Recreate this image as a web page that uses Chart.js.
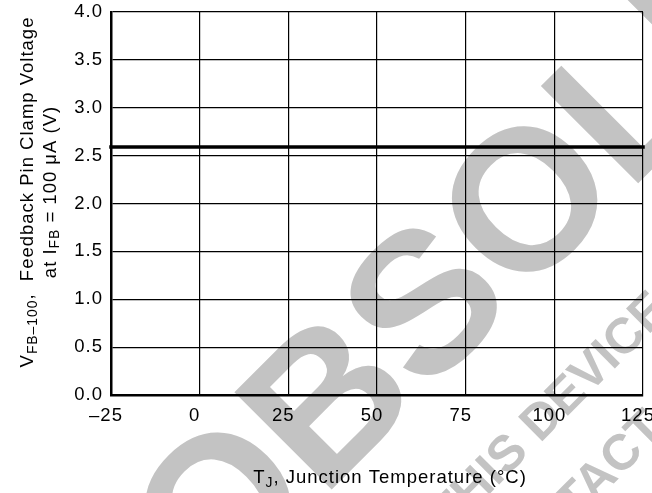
<!DOCTYPE html>
<html>
<head>
<meta charset="utf-8">
<script src="https://cdn.jsdelivr.net/npm/chart.js@4.4.0/dist/chart.umd.min.js"></script>
<style>
  html, body { margin: 0; padding: 0; background: #fff; }
  canvas { display: block; }
</style>
</head>
<body>
<canvas id="clampChart" width="652" height="493"></canvas>
<script>
// Feedback pin clamp voltage vs junction temperature
const tempC  = [-25, 125];
const clampV = [2.59, 2.59];
const xTicks = [-25, 0, 25, 50, 75, 100, 125];
const yTicks = [0, 0.5, 1.0, 1.5, 2.0, 2.5, 3.0, 3.5, 4.0];

// axis titles, split into runs so subscripts can be drawn smaller
const xTitle  = [{ t: "T" }, { t: "J", sub: true }, { t: ", Junction Temperature (°C)" }];
const yTitle1 = [{ t: "V" }, { t: "FB\u2013100", sub: true }, { t: ",  Feedback Pin Clamp Voltage" }];
const yTitle2 = [{ t: "at I" }, { t: "FB", sub: true }, { t: " = 100 \u03BCA (V)" }];

const stamp     = "OBSOLETE";
const stampNote = ["THIS DEVICE IS NOT RECOMMENDED FOR NEW DESIGN",
                   "PLEASE CONTACT YOUR ON SEMICONDUCTOR REPRESENTATIVE"];

const FONT = '"Liberation Sans", Arial, Helvetica, sans-serif';
const SIZE = 18.5;

function drawRich(ctx, runs, x, y) {
  const subSize = SIZE * 0.75, drop = SIZE * 0.2;
  let total = 0;
  runs.forEach(r => {
    ctx.font = `${r.sub ? subSize : SIZE}px ${FONT}`;
    r.w = ctx.measureText(r.t).width;
    total += r.w;
  });
  let cx = x - total / 2;
  runs.forEach(r => {
    ctx.font = `${r.sub ? subSize : SIZE}px ${FONT}`;
    ctx.fillText(r.t, cx, r.sub ? y + drop : y);
    cx += r.w;
  });
}

// slanted grey stamp; the chosen letter is centred on (px, py)
function drawSlanted(ctx, text, idx, px, py, size) {
  ctx.font = `bold ${size}px ${FONT}`;
  const pre = ctx.measureText(text.slice(0, idx)).width;
  const ch  = ctx.measureText(text[idx]).width;
  ctx.save();
  ctx.translate(px, py);
  ctx.rotate(-Math.PI / 4);
  ctx.fillText(text, -(pre + ch / 2), size * 0.358);
  ctx.restore();
}

const decor = {
  id: "decor",
  beforeDraw(chart) {
    const ctx = chart.ctx;
    ctx.save();
    ctx.letterSpacing = "0px";
    ctx.fillStyle = "#c3c3c3";
    ctx.textBaseline = "alphabetic";
    ctx.textAlign = "left";
    drawSlanted(ctx, stamp, 3, 523, 197, 200);
    drawSlanted(ctx, stampNote[0], 5, 540, 418, 50);
    drawSlanted(ctx, stampNote[1], 11, 597, 475, 50);
    ctx.restore();
    ctx.letterSpacing = "1px";
  },
  afterDraw(chart) {
    const ctx = chart.ctx;
    ctx.save();
    ctx.fillStyle = "#000";
    ctx.textBaseline = "alphabetic";
    ctx.textAlign = "left";
    ctx.letterSpacing = "1px";
    drawRich(ctx, xTitle, 390, 483.3);
    ctx.save();
    ctx.translate(33.3, 192);
    ctx.rotate(-Math.PI / 2);
    drawRich(ctx, yTitle1, 0, 0);
    ctx.restore();
    ctx.save();
    ctx.translate(55.5, 192);
    ctx.rotate(-Math.PI / 2);
    drawRich(ctx, yTitle2, 0, 0);
    ctx.restore();
    ctx.restore();
  }
};

const tickFont = { family: FONT, size: SIZE };

new Chart(document.getElementById("clampChart"), {
  type: "line",
  data: {
    datasets: [{
      data: tempC.map((t, i) => ({ x: t, y: clampV[i] })),
      borderColor: "#000",
      borderWidth: 3.5,
      borderCapStyle: "square",
      pointRadius: 0,
      clip: false
    }]
  },
  options: {
    responsive: false,
    animation: false,
    devicePixelRatio: 1,
    layout: { padding: { top: 12, right: 9, left: 0, bottom: 0 } },
    plugins: { legend: { display: false }, tooltip: { enabled: false } },
    scales: {
      x: {
        type: "linear",
        min: -25, max: 125,
        afterBuildTicks: s => { s.ticks = xTicks.map(v => ({ value: v })); },
        afterFit: s => { s.height = 98; s.paddingLeft = 0; s.paddingRight = 0; },
        ticks: {
          color: "#000", font: tickFont, padding: 10, maxRotation: 0, autoSkip: false,
          labelOffset: -5,
          callback: v => v < 0 ? "\u2013" + (-v) : String(v)
        },
        grid: { color: "#000", lineWidth: 1.2, drawTicks: false },
        border: { color: "#000", width: 2.5 }
      },
      y: {
        min: 0, max: 4,
        afterBuildTicks: s => { s.ticks = yTicks.map(v => ({ value: v })); },
        afterFit: s => { s.width = 111; s.paddingTop = 0; s.paddingBottom = 0; },
        ticks: {
          color: "#000", font: tickFont, padding: 8, autoSkip: false,
          callback: v => v.toFixed(1)
        },
        grid: { color: "#000", lineWidth: 1.2, drawTicks: false },
        border: { color: "#000", width: 2.5 }
      }
    }
  },
  plugins: [decor]
});
</script>
</body>
</html>
